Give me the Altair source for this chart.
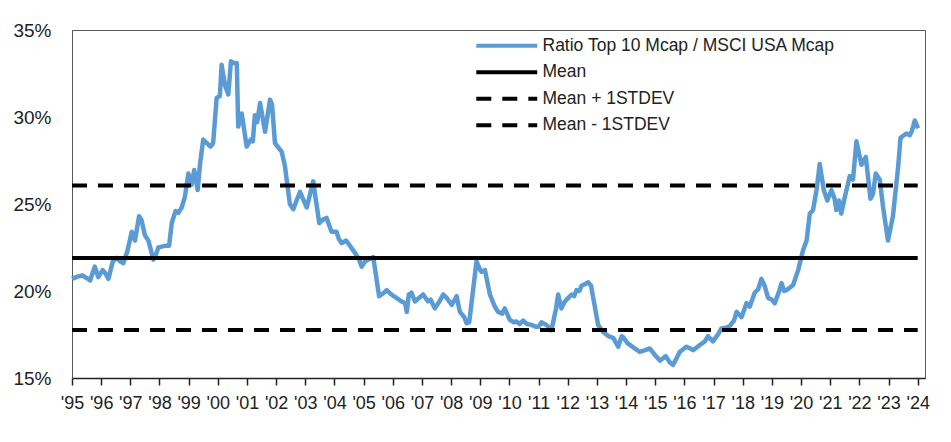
import altair as alt
import pandas as pd

# ---- data ----
years = [
    1995.00, 1995.15, 1995.35, 1995.55, 1995.62, 1995.78, 1995.90, 1996.05, 1996.15, 1996.25,
    1996.40, 1996.53, 1996.65, 1996.76, 1996.90, 1997.05, 1997.16, 1997.30, 1997.38, 1997.50,
    1997.62, 1997.79, 1997.90, 1997.96, 1998.20, 1998.33, 1998.42, 1998.55, 1998.65, 1998.76,
    1998.87, 1998.99, 1999.10, 1999.19, 1999.31, 1999.39, 1999.50, 1999.62, 1999.75, 1999.84,
    1999.96, 2000.07, 2000.13, 2000.25, 2000.36, 2000.45, 2000.55, 2000.65, 2000.70, 2000.82,
    2000.99, 2001.13, 2001.20, 2001.27, 2001.35, 2001.45, 2001.62, 2001.79, 2001.86, 2001.96,
    2002.19, 2002.30, 2002.47, 2002.59, 2002.70, 2002.82, 2002.92, 2003.05, 2003.27, 2003.40,
    2003.48, 2003.60, 2003.73, 2003.90, 2004.07, 2004.15, 2004.25, 2004.40, 2004.53, 2004.70,
    2004.85, 2004.93, 2005.05, 2005.16, 2005.33, 2005.45, 2005.53, 2005.70, 2005.79, 2005.95,
    2006.13, 2006.30, 2006.42, 2006.48, 2006.55, 2006.64, 2006.76, 2006.90, 2007.04, 2007.21,
    2007.30, 2007.44, 2007.60, 2007.73, 2007.85, 2008.02, 2008.19, 2008.30, 2008.45, 2008.53,
    2008.62, 2008.75, 2008.87, 2009.00, 2009.04, 2009.16, 2009.33, 2009.50, 2009.61, 2009.75,
    2009.84, 2010.01, 2010.15, 2010.24, 2010.35, 2010.47, 2010.60, 2010.76, 2010.90, 2011.00,
    2011.10, 2011.27, 2011.44, 2011.60, 2011.67, 2011.78, 2011.90, 2011.96, 2012.13, 2012.22,
    2012.30, 2012.40, 2012.47, 2012.60, 2012.70, 2012.80, 2013.04, 2013.21, 2013.40, 2013.56,
    2013.73, 2013.85, 2013.90, 2014.05, 2014.13, 2014.30, 2014.47, 2014.65, 2014.81, 2015.00,
    2015.16, 2015.36, 2015.50, 2015.61, 2015.75, 2015.84, 2016.07, 2016.20, 2016.30, 2016.53,
    2016.70, 2016.81, 2016.98, 2017.15, 2017.27, 2017.45, 2017.56, 2017.70, 2017.79, 2017.96,
    2018.13, 2018.24, 2018.41, 2018.53, 2018.64, 2018.75, 2018.87, 2019.00, 2019.10, 2019.25,
    2019.33, 2019.42, 2019.50, 2019.62, 2019.73, 2019.82, 2019.90, 2020.07, 2020.19, 2020.30,
    2020.41, 2020.53, 2020.64, 2020.78, 2020.90, 2021.04, 2021.15, 2021.21, 2021.30, 2021.38,
    2021.50, 2021.67, 2021.78, 2021.90, 2022.07, 2022.22, 2022.30, 2022.38, 2022.47, 2022.56,
    2022.70, 2022.81, 2022.98, 2023.15, 2023.33, 2023.41, 2023.61, 2023.73, 2023.80, 2023.90,
    2024.01,
]
ratio = [
    20.7, 20.8, 20.9, 20.7, 20.6, 21.4, 20.8, 21.2, 21.0, 20.7,
    21.7, 21.9, 21.7, 21.6, 22.3, 23.4, 22.9, 24.3, 24.1, 23.2,
    22.9, 21.8, 22.2, 22.5, 22.6, 22.6, 23.9, 24.6, 24.5, 24.8,
    25.4, 26.75, 26.1, 26.95, 25.8, 27.3, 28.7, 28.5, 28.3, 28.5,
    31.1, 31.2, 33.0, 31.8, 31.3, 33.2, 33.1, 33.1, 29.45, 30.2,
    28.3, 28.7, 28.6, 30.1, 29.7, 30.8, 29.15, 31.0, 30.7, 28.5,
    28.0, 27.2, 25.0, 24.7, 25.2, 25.7, 25.3, 24.8, 26.3, 24.8,
    23.9, 24.1, 24.2, 23.4, 23.4, 23.0, 22.75, 22.9, 22.6, 22.2,
    21.8, 21.4, 21.7, 21.8, 21.95, 20.6, 19.7, 19.9, 20.05, 19.8,
    19.6, 19.4, 19.3, 18.8, 19.8, 19.9, 19.4, 19.6, 19.8, 19.4,
    19.5, 19.0, 19.4, 19.8, 19.6, 19.2, 19.7, 18.8, 18.5, 18.15,
    18.2, 20.0, 21.7, 21.2, 21.1, 21.2, 19.8, 19.1, 18.8, 18.7,
    19.0, 18.35, 18.2, 18.25, 18.1, 18.3, 18.1, 18.05, 17.95, 17.95,
    18.2, 18.05, 17.75, 19.0, 19.8, 19.0, 19.4, 19.5, 19.8, 19.7,
    20.05, 20.0, 20.3, 20.4, 20.5, 20.3, 18.05, 17.65, 17.4, 17.3,
    16.8, 17.4, 17.35, 17.0, 16.9, 16.7, 16.5, 16.6, 16.7, 16.3,
    16.0, 16.25, 15.9, 15.75, 16.2, 16.5, 16.8, 16.7, 16.6, 16.9,
    17.1, 17.4, 17.1, 17.5, 17.85, 17.9, 18.0, 18.3, 18.8, 18.5,
    19.3, 19.1, 19.9, 20.1, 20.7, 20.3, 19.6, 19.5, 19.3, 20.0,
    20.45, 20.0, 20.05, 20.2, 20.35, 20.8, 21.2, 22.35, 22.9, 24.45,
    24.65, 25.8, 27.3, 25.8, 25.2, 25.8, 25.3, 24.65, 25.2, 24.45,
    25.4, 26.6, 26.4, 28.6, 27.25, 27.7, 26.5, 25.3, 25.6, 26.75,
    26.4, 24.85, 22.9, 24.3, 27.15, 28.8, 29.05, 28.95, 29.2, 29.8,
    29.35,
]

series_names = ["Ratio Top 10 Mcap / MSCI USA Mcap", "Mean", "Mean + 1STDEV", "Mean - 1STDEV"]
ref_levels = [21.9, 26.07, 17.76]          # mean, mean+1sd, mean-1sd
ref_span = [1995, 2024]
x_ticks = list(range(1995, 2025))
y_ticks = [15, 20, 25, 30, 35]

series_colors = ["#5B9BD5", "#000000", "#000000", "#000000"]
series_dashes = [[1, 0], [1, 0], [15, 11], [15, 11]]

df_ratio = pd.DataFrame({"year": years, "value": ratio, "series": series_names[0]})
ref_rows = []
for name, lvl in zip(series_names[1:], ref_levels):
    for yr in ref_span:
        ref_rows.append({"year": yr, "value": lvl, "series": name})
df_ref = pd.DataFrame(ref_rows)

FONT = "Liberation Sans"
TXT = "#222222"

legend = alt.Legend(
    title=None, orient="none", legendX=426, legendY=7,
    symbolType="M-6,0H6", symbolSize=103, symbolStrokeWidth=4,
    labelFont=FONT, labelFontSize=17.5, labelColor=TXT, labelOffset=27,
    labelLimit=500, rowPadding=7.5, padding=0,
)

x_enc = alt.X(
    "year:Q",
    scale=alt.Scale(domain=[1995, 2024.25], nice=False, zero=False),
    axis=alt.Axis(
        values=x_ticks, title=None, grid=False,
        labelExpr="\"'\" + slice(toString(datum.value), 2)",
        labelFont=FONT, labelFontSize=18, labelColor=TXT, labelOverlap=False,
        labelPadding=9, tickSize=7, tickColor=TXT, tickWidth=1.5,
        domainColor=TXT, domainWidth=1.5, labelFlush=False,
    ),
)
y_enc = alt.Y(
    "value:Q",
    scale=alt.Scale(domain=[15, 35], nice=False, zero=False),
    axis=alt.Axis(
        values=y_ticks, title=None, grid=False, ticks=False,
        labelExpr="datum.value + '%'",
        labelFont=FONT, labelFontSize=19, labelColor=TXT, labelPadding=21,
        domainColor="#595959", domainWidth=1,
    ),
)
color_enc = alt.Color(
    "series:N", scale=alt.Scale(domain=series_names, range=series_colors), legend=legend
)
dash_enc = alt.StrokeDash(
    "series:N", scale=alt.Scale(domain=series_names, range=series_dashes), legend=legend
)

ratio_line = alt.Chart(df_ratio).mark_line(strokeWidth=4.5, strokeJoin="round").encode(
    x=x_enc, y=y_enc, color=color_enc, strokeDash=dash_enc
)
ref_lines = alt.Chart(df_ref).mark_line(strokeWidth=4).encode(
    x=x_enc, y=y_enc, color=color_enc, strokeDash=dash_enc, detail="series:N"
)

chart = (
    alt.layer(ratio_line, ref_lines)
    .properties(
        width=853, height=348,
        autosize=alt.AutoSizeParams(type="none"),
        padding={"left": 64, "top": 22, "right": 10, "bottom": 40},
        background="white",
    )
    .configure_view(stroke="#595959", strokeWidth=1)
)

chart.save("out.html", embed_options={"renderer": "svg", "actions": False})
